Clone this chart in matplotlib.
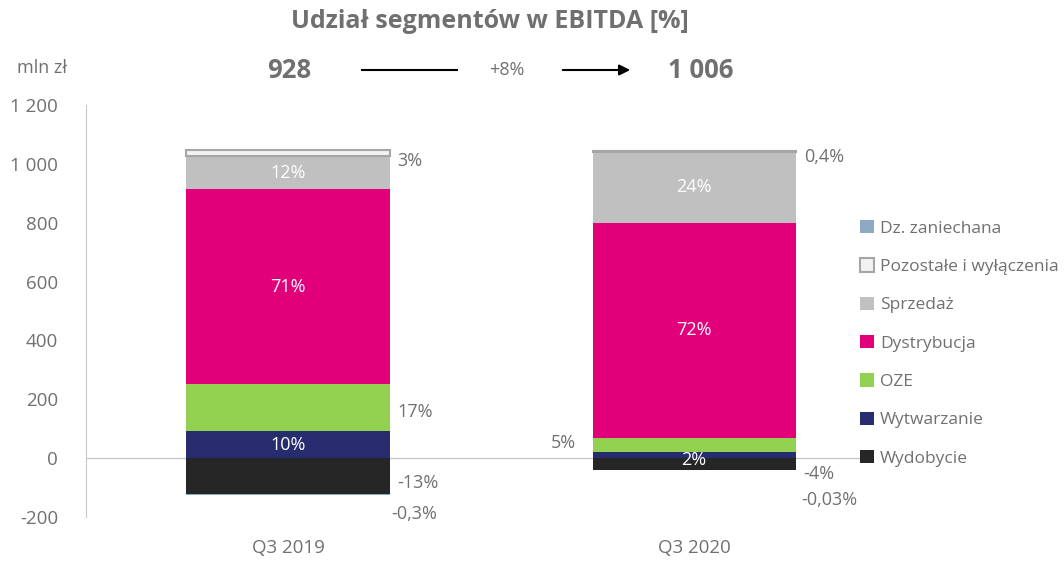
import numpy as np
import matplotlib.pyplot as plt
from matplotlib.patches import FancyArrowPatch

plt.rcParams['font.family'] = ['Open Sans', 'DejaVu Sans']

# DATA (mln zł)
quarters = ["Q3 2019", "Q3 2020"]
totals = ["928", "1 006"]
change = "+8%"
segments = ["Wydobycie", "Dz. zaniechana", "Wytwarzanie", "OZE", "Dystrybucja", "Sprzedaż", "Pozostałe i wyłączenia"]
values_2019 = [-121, -3, 92, 160, 662, 112, 22]
values_2020 = [-40, -0.3, 20, 50, 730, 240, 4]
labels_2019 = ["-13%", "-0,3%", "10%", "17%", "71%", "12%", "3%"]
labels_2020 = ["-4%", "-0,03%", "2%", "5%", "72%", "24%", "0,4%"]
colors = ["#262626", "#8FA9C4", "#262C6E", "#92D050", "#E2007A", "#C0C0C0", "#F2F2F2"]
edges = [None, None, None, None, None, None, "#A6A6A6"]
legend_order = ["Dz. zaniechana", "Pozostałe i wyłączenia", "Sprzedaż", "Dystrybucja", "OZE", "Wytwarzanie", "Wydobycie"]

gray = "#707070"

fig = plt.figure(figsize=(10.64, 5.61), dpi=100)
ax = fig.add_axes([86/1064, 1-517/561, (865-86)/1064, (517-105)/561])

x = np.arange(len(quarters))
w = 0.5
data = [values_2019, values_2020]
bars = {}
for qi, vals in enumerate(data):
    pos = 0
    neg = 0
    for si, v in enumerate(vals):
        if v >= 0:
            bottom = pos
            pos += v
        else:
            bottom = neg
            neg += v
        ec = edges[si] if edges[si] else "none"
        lw = 1.5 if edges[si] else 0
        b = ax.bar(x[qi], v, w, bottom=bottom, color=colors[si], edgecolor=ec, linewidth=lw, zorder=3)
        bars.setdefault(segments[si], b)

ax.axhline(0, color="#C8C8C8", lw=1, zorder=2)
ax.set_xlim(-0.4975, 1.421)
ax.set_ylim(-200, 1200)
ax.set_yticks(np.arange(-200, 1201, 200))
ax.set_yticklabels([f"{v:,}".replace(",", " ") for v in range(-200, 1201, 200)])
ax.set_xticks(x)
ax.set_xticklabels(quarters)
ax.tick_params(axis="both", length=0, labelsize=13.5, colors=gray)
ax.tick_params(axis="y", pad=20)
ax.tick_params(axis="x", pad=16)
for s in ["top", "right", "bottom"]:
    ax.spines[s].set_visible(False)
ax.spines["left"].set_color("#C8C8C8")

# value labels
def cum(vals):
    out = []
    pos = neg = 0
    for v in vals:
        if v >= 0:
            out.append((pos, pos + v)); pos += v
        else:
            out.append((neg + v, neg)); neg += v
    return out

inside = dict(color="white", fontsize=13, ha="center", va="center", zorder=5)
outside = dict(color=gray, fontsize=13, va="center", zorder=5)

c19 = cum(values_2019)
c20 = cum(values_2020)
xr0 = x[0] + w/2 + 0.02
xr1 = x[1] + w/2 + 0.02
# Q3 2019
ax.text(x[0], sum(c19[5])/2, labels_2019[5], **inside)
ax.text(x[0], sum(c19[4])/2, labels_2019[4], **inside)
ax.text(x[0], sum(c19[2])/2, labels_2019[2], **inside)
ax.text(xr0, c19[6][1] - 38, labels_2019[6], ha="left", **outside)
ax.text(xr0, c19[3][0] + 65, labels_2019[3], ha="left", **outside)
ax.text(xr0, -85, labels_2019[0], ha="left", **outside)
ax.text(x[0] + 0.367, -190, labels_2019[1], ha="right", **outside)
# Q3 2020
ax.text(x[1], sum(c20[5])/2, labels_2020[5], **inside)
ax.text(x[1], sum(c20[4])/2, labels_2020[4], **inside)
ax.text(x[1], -7, labels_2020[2], **inside)
ax.text(xr1, c20[6][1] - 20, labels_2020[6], ha="left", **outside)
ax.text(x[1] - w/2 - 0.04, 50, labels_2020[3], ha="right", **outside)
ax.text(xr1, -55, labels_2020[0], ha="left", **outside)
ax.text(x[1] + 0.401, -143, labels_2020[1], ha="right", **outside)

# legend
handles = [bars[n] for n in legend_order]
leg = fig.legend(handles, legend_order, loc="upper left", bbox_to_anchor=(853/1064, 1-213/561),
                 frameon=False, fontsize=12.5, labelcolor=gray, handlelength=0.8, handleheight=0.8,
                 handletextpad=0.35, labelspacing=1.25, borderaxespad=0)

# header
fig.text(490/1064, 1-22/561, "Udział segmentów w EBITDA [%]", ha="center", va="center",
         fontsize=18, fontweight="bold", color=gray)
fig.text(42/1064, 1-68/561, "mln zł", ha="center", va="center", fontsize=13, color=gray)
fig.text(289/1064, 1-70/561, totals[0], ha="center", va="center", fontsize=18.5, fontweight="bold", color=gray)
fig.text(701/1064, 1-70/561, totals[1], ha="center", va="center", fontsize=18.5, fontweight="bold", color=gray)
fig.text(507/1064, 1-70/561, change, ha="center", va="center", fontsize=13, color=gray)
fig.add_artist(plt.Line2D([362/1064, 457/1064], [1-70/561, 1-70/561], color="black", lw=1.5))
fig.add_artist(FancyArrowPatch((560/1064, 1-70/561), (633/1064, 1-70/561), transform=fig.transFigure,
                               arrowstyle="-|>", mutation_scale=16, color="black", lw=1.5))

fig.savefig("out.png", dpi=100)
